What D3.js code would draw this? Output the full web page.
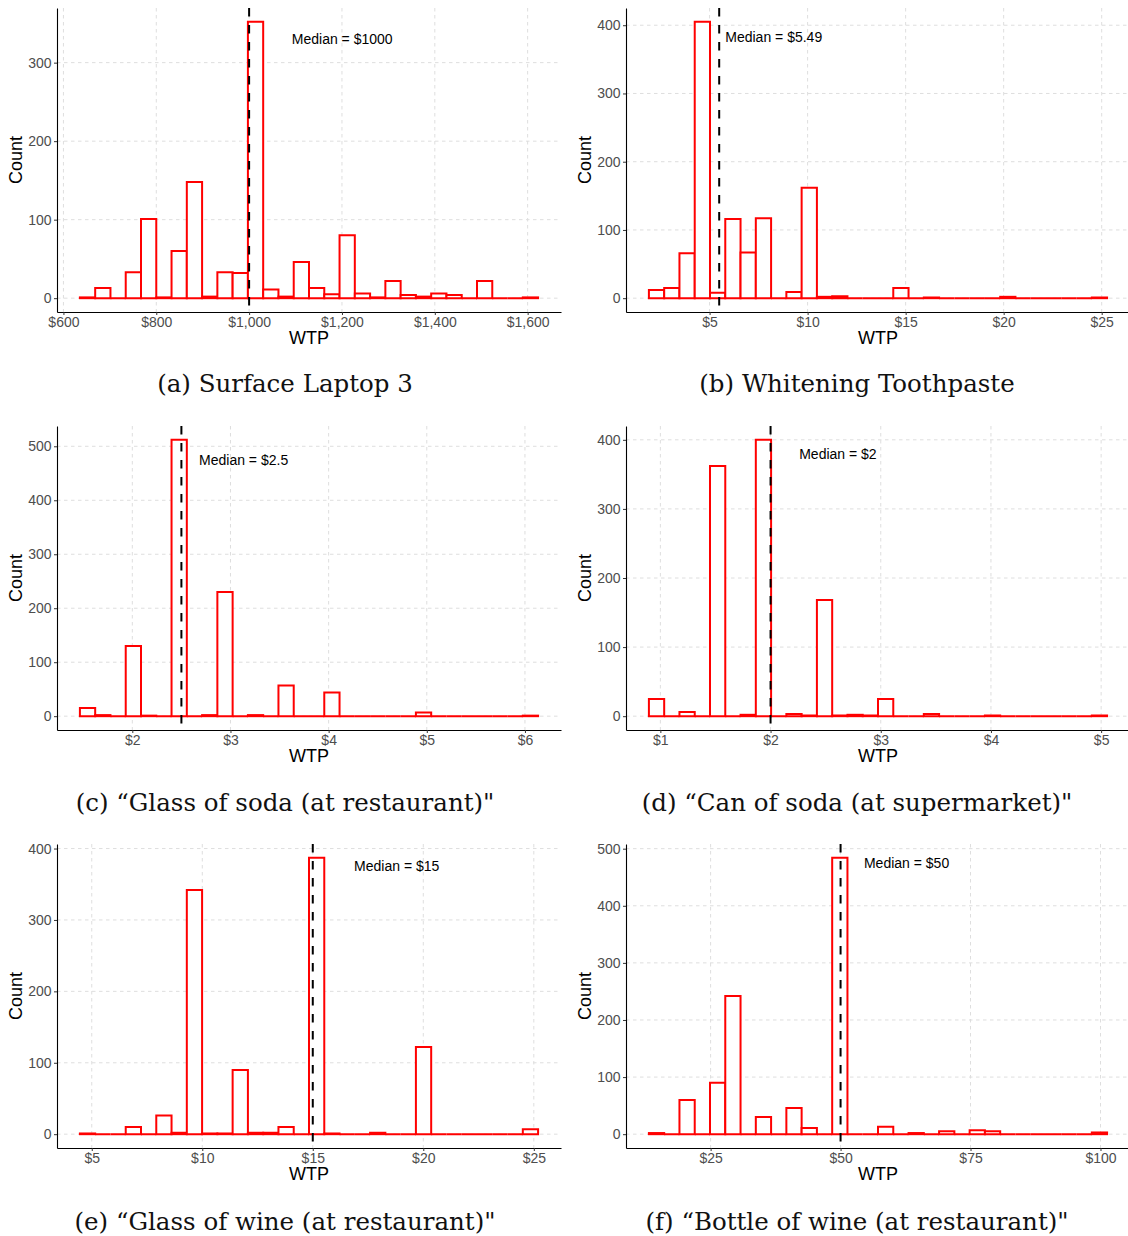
<!DOCTYPE html>
<html>
<head>
<meta charset="UTF-8">
<title>WTP histograms</title>
<script src="https://d3js.org/d3.v7.min.js"></script>
<style>
body { margin: 0; background: #fff; }
.grid line { stroke: #dedede; stroke-width: 1; stroke-dasharray: 3.5,3.5; }
.axis .domain { stroke: #000; stroke-width: 1.1; }
.axis .tick line { stroke: #333; }
.axis .tick text { fill: #4d4d4d; font-family: "Liberation Sans", Arial, sans-serif; font-size: 14px; }
.bar { fill: #fff; stroke: #ff0000; stroke-width: 2; }
.median { stroke: #000; stroke-width: 2; stroke-dasharray: 8.5,8.5; }
.title { font-family: "Liberation Sans", Arial, sans-serif; font-size: 18px; fill: #000; }
.note { font-family: "Liberation Sans", Arial, sans-serif; font-size: 14px; fill: #000; }
.caption { font-family: "DejaVu Serif", serif; font-size: 24.5px; fill: #111; }
</style>
</head>
<body>
<script>
// histogram counts, 30 bins each
var laptopCounts     = [1,13,0,33,101,1,60,148,2,33,32,352,11,2,46,13,5,80,6,1,22,4,2,6,4,0,22,0,0,1];
var toothpasteCounts = [12,15,66,405,8,116,67,117,0,9,162,2,3,0,0,0,15,0,1,0,0,0,0,2,0,0,0,0,0,1];
var sodaRestCounts   = [15,2,0,130,1,0,512,0,2,230,0,2,0,57,0,0,44,0,0,0,0,0,7,0,0,0,0,0,0,1];
var sodaShopCounts   = [25,0,6,0,362,0,2,400,0,3,1,168,1,2,1,25,0,0,3,0,0,0,1,0,0,0,0,0,0,1];
var wineGlassCounts  = [1,0,0,10,0,26,2,342,1,1,90,2,2,10,0,387,1,0,0,2,0,0,122,0,0,0,0,0,0,7];
var wineBottleCounts = [2,0,60,0,90,242,0,30,0,46,11,0,484,0,0,13,0,2,0,5,0,7,5,0,0,0,0,0,0,3];

// first bin edge and bin width (dollars)
var binStarts = [635.5, 1.905, 1.466, 0.896, 4.464, 13.13];
var binWidths = [32.9, 0.779, 0.1556, 0.1386, 0.691, 2.938];

var medians = [1000, 5.49, 2.5, 2, 15, 50];
var medianText = ["Median = $1000", "Median = $5.49", "Median = $2.5", "Median = $2", "Median = $15", "Median = $50"];
// where the median note sits, in data units (x left edge, y count)
var noteX = [1092, 5.8, 2.68, 2.26, 16.87, 54.5];
var noteY = [330, 383, 474, 380, 375, 475];

var xTicks = [
  [600, 800, 1000, 1200, 1400, 1600],
  [5, 10, 15, 20, 25],
  [2, 3, 4, 5, 6],
  [1, 2, 3, 4, 5],
  [5, 10, 15, 20, 25],
  [25, 50, 75, 100]
];
var yTicks = [
  [0, 100, 200, 300],
  [0, 100, 200, 300, 400],
  [0, 100, 200, 300, 400, 500],
  [0, 100, 200, 300, 400],
  [0, 100, 200, 300, 400],
  [0, 100, 200, 300, 400, 500]
];
var captions = [
  "(a) Surface Laptop 3",
  "(b) Whitening Toothpaste",
  "(c) \u201cGlass of soda (at restaurant)\"",
  "(d) \u201cCan of soda (at supermarket)\"",
  "(e) \u201cGlass of wine (at restaurant)\"",
  "(f) \u201cBottle of wine (at restaurant)\""
];
var allCounts = [laptopCounts, toothpasteCounts, sodaRestCounts, sodaShopCounts, wineGlassCounts, wineBottleCounts];

var W = 504, H = 304;
var colLeft = [57, 626], colCenter = [285, 857];
var rowTop = [8, 426, 844], rowCaption = [392, 811, 1230];

var svg = d3.select("body").append("svg")
  .attr("width", 1128)
  .attr("height", 1236);

var money = d3.format(",");

function drawPanel(i) {
  var col = i % 2, row = Math.floor(i / 2);
  var counts = allCounts[i];
  var bins = counts.map(function(c, k) {
    return {x0: binStarts[i] + k * binWidths[i], x1: binStarts[i] + (k + 1) * binWidths[i], n: c};
  });
  var lo = bins[0].x0, hi = bins[bins.length - 1].x1, pad = (hi - lo) * 0.05;
  var ymax = d3.max(counts);

  var x = d3.scaleLinear().domain([lo - pad, hi + pad]).range([0, W]);
  var y = d3.scaleLinear().domain([-0.05 * ymax, 1.05 * ymax]).range([H, 0]);

  var g = svg.append("g").attr("transform", "translate(" + colLeft[col] + "," + rowTop[row] + ")");

  var grid = g.append("g").attr("class", "grid");
  grid.selectAll(".gx").data(xTicks[i]).join("line")
    .attr("x1", function(d) { return x(d); }).attr("x2", function(d) { return x(d); })
    .attr("y1", 0).attr("y2", H);
  grid.selectAll(".gy").data(yTicks[i]).join("line")
    .attr("y1", function(d) { return y(d); }).attr("y2", function(d) { return y(d); })
    .attr("x1", 0).attr("x2", W);

  // bars as paths so empty bins still show as a flat red line
  g.selectAll(".bar").data(bins).join("path")
    .attr("class", "bar")
    .attr("d", function(d) {
      return "M" + x(d.x0) + "," + y(0) + "V" + y(d.n) + "H" + x(d.x1) + "V" + y(0) + "Z";
    });

  g.append("line").attr("class", "median")
    .attr("x1", x(medians[i])).attr("x2", x(medians[i]))
    .attr("y1", 0).attr("y2", H);

  g.append("text").attr("class", "note")
    .attr("x", x(noteX[i])).attr("y", y(noteY[i]))
    .attr("dy", "0.35em")
    .text(medianText[i]);

  g.append("g").attr("class", "axis")
    .attr("transform", "translate(0," + H + ")")
    .call(d3.axisBottom(x).tickValues(xTicks[i]).tickSize(3).tickSizeOuter(0).tickPadding(2)
      .tickFormat(function(d) { return "$" + money(d); }));

  g.append("g").attr("class", "axis")
    .call(d3.axisLeft(y).tickValues(yTicks[i]).tickSize(3).tickSizeOuter(0).tickPadding(2.5));

  g.append("text").attr("class", "title")
    .attr("transform", "translate(-41," + (H / 2) + ") rotate(-90)")
    .attr("text-anchor", "middle")
    .attr("dy", "0.35em")
    .text("Count");

  g.append("text").attr("class", "title")
    .attr("x", W / 2).attr("y", H + 32)
    .attr("text-anchor", "middle")
    .text("WTP");

  svg.append("text").attr("class", "caption")
    .attr("x", colCenter[col]).attr("y", rowCaption[row])
    .attr("text-anchor", "middle")
    .text(captions[i]);
}

for (var i = 0; i < 6; i++) drawPanel(i);
</script>
</body>
</html>
